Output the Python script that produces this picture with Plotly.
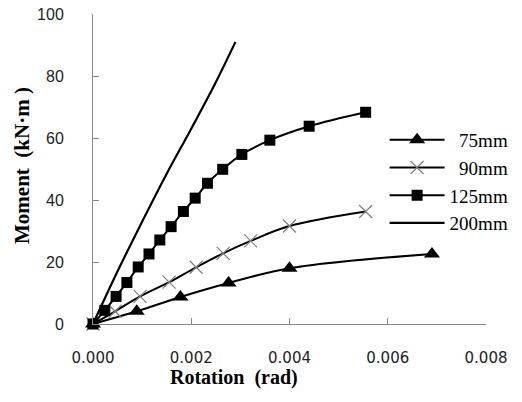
import plotly.graph_objects as go

# ---- data ----
rot_75 = [0, 0.00089, 0.00178, 0.00276, 0.0040, 0.0069]
mom_75 = [0, 4.1, 8.7, 13.2, 18.0, 22.6]

rot_90 = [0, 0.00045, 0.00096, 0.00155, 0.0021, 0.00265, 0.00321, 0.0040, 0.00555]
mom_90 = [0, 4.1, 8.9, 13.5, 18.3, 22.8, 26.8, 31.6, 36.3]

rot_125 = [0, 0.00024, 0.00047, 0.00069, 0.00092, 0.00114, 0.00136, 0.00159,
           0.00184, 0.00208, 0.00233, 0.00264, 0.00303, 0.0036, 0.0044, 0.00555]
mom_125 = [0, 4.4, 8.9, 13.4, 18.4, 22.6, 27.1, 31.4,
           36.3, 40.6, 45.4, 49.9, 54.7, 59.3, 63.8, 68.3]

rot_200 = [0, 0.0005, 0.0010, 0.0015, 0.0020, 0.0025, 0.0029]
mom_200 = [0, 17.0, 33.0, 48.5, 63.0, 78.0, 91.0]

x_ticks = [0, 0.002, 0.004, 0.006, 0.008]
y_ticks = [0, 20, 40, 60, 80, 100]

names = ["\u00a0\u00a075mm", "\u00a0\u00a090mm", "125mm", "200mm"]

fig = go.Figure()
fig.add_trace(go.Scatter(x=rot_75, y=mom_75, name=names[0], mode="lines+markers",
                         line=dict(color="black", width=2, shape="spline"),
                         marker=dict(symbol="triangle-up", size=14, color="black")))
fig.add_trace(go.Scatter(x=rot_90, y=mom_90, name=names[1], mode="lines+markers",
                         line=dict(color="black", width=2, shape="spline"),
                         marker=dict(symbol="x-thin", size=13, color="#808080",
                                     line=dict(color="#808080", width=1.2))))
fig.add_trace(go.Scatter(x=rot_125, y=mom_125, name=names[2], mode="lines+markers",
                         line=dict(color="black", width=2, shape="spline"),
                         marker=dict(symbol="square", size=11, color="black")))
fig.add_trace(go.Scatter(x=rot_200, y=mom_200, name=names[3], mode="lines",
                         line=dict(color="black", width=2.2, shape="spline")))
for t in fig.data:
    t.cliponaxis = False

axis_common = dict(showgrid=False, zeroline=False, showline=True, automargin=False,
                   linecolor="#888888", linewidth=1, ticks="inside",
                   ticklen=6, tickcolor="#888888", tickwidth=1,
                   ticklabeloverflow="allow")

# plot area targets page x 93..486, y 13.7..324.3 (body margin removed below)
fig.update_layout(
    width=522, height=402,
    margin=dict(l=93, r=36, t=14, b=78, autoexpand=False),
    paper_bgcolor="white", plot_bgcolor="white",
    xaxis=dict(range=[0, 0.008], tickvals=x_ticks, tickformat=".3f",
               tickfont=dict(family="DejaVu Sans", size=15, color="#222"),
               ticklabelstandoff=20, **axis_common),
    yaxis=dict(range=[0, 100], tickvals=y_ticks,
               tickfont=dict(family="Liberation Sans", size=16, color="#222"),
               ticklabelstandoff=25, **axis_common),
    legend=dict(x=0.742, y=0.655, xanchor="left", yanchor="top",
                font=dict(family="Liberation Serif", size=19, color="black"),
                bgcolor="rgba(0,0,0,0)", itemwidth=55, tracegroupgap=0),
    annotations=[
        dict(text="<b>Rotation\u00a0\u00a0(rad)</b>", xref="paper", yref="paper",
             x=(234 - 93) / 393, y=(324.3 - 378) / 310.6, xanchor="center", yanchor="middle",
             showarrow=False, font=dict(family="Liberation Serif", size=20, color="black")),
        dict(text="<b>Moment\u00a0\u00a0(kN·m\u00a0)</b>", xref="paper", yref="paper",
             x=(22 - 93) / 393, y=(324.3 - 166) / 310.6, xanchor="center", yanchor="middle",
             textangle=-90, showarrow=False,
             font=dict(family="Liberation Serif", size=21, color="black")),
    ],
)

fig.write_html("out.html", config={"displayModeBar": False},
               post_script="document.body.style.margin='0';")
